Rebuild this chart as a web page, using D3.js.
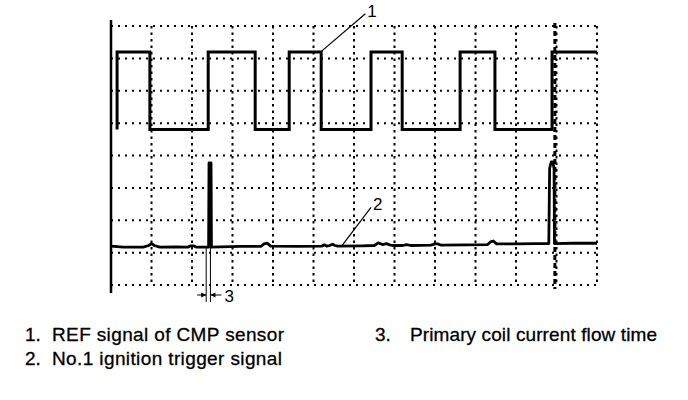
<!DOCTYPE html>
<html>
<head>
<meta charset="utf-8">
<script src="https://cdn.jsdelivr.net/npm/d3@7"></script>
<style>
  body { margin: 0; background: #fff; }
  text { font-family: "Liberation Sans", Arial, sans-serif; fill: #000; }
</style>
</head>
<body>
<svg id="scope" width="688" height="400"></svg>
<script>
// scope screen: 12 x 8 divisions
const xDivs = d3.range(0, 13);
const yDivs = d3.range(0, 9);
const cursorDiv = 10.96; // heavy dashed cursor line

// 1. REF signal of CMP sensor (step trace)
const refTimes  = [0.15, 0.15, 0.96, 2.40, 3.56, 4.40, 5.19, 6.42, 7.19, 8.62, 9.48, 10.89, 12];
const refLevels = [4.8,  7.2,  4.8,  7.2,  4.8,  7.2,  4.8,  7.2,  4.8,  7.2,  4.8,  7.2,   7.2];

// 2. No.1 ignition trigger signal
const trigTimes  = [0, 0.3, 0.8, 0.93, 1.0, 1.07, 1.2, 1.6, 1.9, 1.97, 2.04, 2.1, 2.41, 2.42, 2.47, 2.48, 2.7, 3.2, 3.7, 3.78, 3.86, 3.94, 4.6, 5.2, 5.27, 5.33, 5.4, 5.47, 5.53, 5.6, 6.2, 6.5, 6.6, 6.7, 6.8, 6.88, 6.95, 7.2, 7.3, 7.4, 7.9, 8.0, 8.07, 8.15, 8.8, 9.3, 9.37, 9.44, 9.52, 10.0, 10.5, 10.81, 10.83, 10.87, 10.91, 10.94, 10.95, 11.4, 12];
const trigLevels = [1.2, 1.17, 1.17, 1.22, 1.28, 1.22, 1.17, 1.18, 1.17, 1.21, 1.21, 1.17, 1.17, 3.77, 3.77, 1.17, 1.18, 1.19, 1.19, 1.27, 1.29, 1.2, 1.19, 1.2, 1.24, 1.2, 1.22, 1.26, 1.22, 1.2, 1.21, 1.22, 1.3, 1.25, 1.28, 1.24, 1.22, 1.22, 1.25, 1.22, 1.23, 1.27, 1.27, 1.23, 1.24, 1.25, 1.33, 1.36, 1.27, 1.27, 1.28, 1.28, 3.6, 3.8, 3.8, 3.6, 1.28, 1.29, 1.29];

// callouts (in divisions)
const callout1 = { from: [5.18, 7.2], to: [6.28, 8.38], label: "1" };
const callout2 = { from: [5.68, 1.18], to: [6.42, 2.4], label: "2" };
const flowTime = { start: 2.35, end: 2.455, label: "3" };

const legendNums  = ["1.", "2.", "3."];
const legendTexts = ["REF signal of CMP sensor", "No.1 ignition trigger signal", "Primary coil current flow time"];

const svg = d3.select("#scope");
const x = d3.scaleLinear().domain([0, 12]).range([111, 597]);
const y = d3.scaleLinear().domain([0, 8]).range([285, 26]);

svg.append("rect").attr("width", 688).attr("height", 400).attr("fill", "#fff");

// dotted grid
const grid = svg.append("g").attr("stroke", "#000");
grid.selectAll(".h").data(yDivs).enter().append("line")
    .attr("x1", x(0)).attr("x2", x(12))
    .attr("y1", d => y(d)).attr("y2", d => y(d))
    .attr("stroke-width", 2).attr("stroke-dasharray", "2,5");
grid.selectAll(".v").data(xDivs.slice(1)).enter().append("line")
    .attr("x1", d => x(d)).attr("x2", d => x(d))
    .attr("y1", y(8)).attr("y2", y(0))
    .attr("stroke-width", 2).attr("stroke-dasharray", "2.5,4");

// cursor
svg.append("line")
    .attr("x1", x(cursorDiv)).attr("x2", x(cursorDiv))
    .attr("y1", y(8) - 3).attr("y2", y(0) + 4)
    .attr("stroke", "#000").attr("stroke-width", 3).attr("stroke-dasharray", "5,3");

// left solid edge
svg.append("line")
    .attr("x1", x(0)).attr("x2", x(0))
    .attr("y1", y(8) - 6).attr("y2", y(0) + 8)
    .attr("stroke", "#000").attr("stroke-width", 2.5);

// traces
const stepLine = d3.line().x(d => x(d[0])).y(d => y(d[1])).curve(d3.curveStepAfter);
svg.append("path")
    .attr("d", stepLine(refTimes.map((t, i) => [t, refLevels[i]])))
    .attr("fill", "none").attr("stroke", "#000").attr("stroke-width", 3);

const trigLine = d3.line().x(d => x(d[0])).y(d => y(d[1]));
svg.append("path")
    .attr("d", trigLine(trigTimes.map((t, i) => [t, trigLevels[i]])))
    .attr("fill", "none").attr("stroke", "#000").attr("stroke-width", 2.8)
    .attr("stroke-linejoin", "round");

// callouts 1 and 2
[callout1, callout2].forEach(c => {
  svg.append("line")
      .attr("x1", x(c.from[0])).attr("y1", y(c.from[1]))
      .attr("x2", x(c.to[0])).attr("y2", y(c.to[1]))
      .attr("stroke", "#000").attr("stroke-width", 1.2);
  svg.append("text")
      .attr("x", x(c.to[0]) + 2).attr("y", y(c.to[1]) + 3)
      .attr("font-size", 17).text(c.label);
});

// callout 3: flow time
const arrowY = y(0) + 10;
[flowTime.start, flowTime.end].forEach(t => {
  svg.append("line")
      .attr("x1", x(t)).attr("x2", x(t))
      .attr("y1", y(1.17)).attr("y2", y(0) + 17)
      .attr("stroke", "#000").attr("stroke-width", 1);
});
const arrows = svg.append("g").attr("stroke", "#000").attr("stroke-width", 1);
arrows.append("line").attr("x1", x(flowTime.start) - 9).attr("x2", x(flowTime.start))
    .attr("y1", arrowY).attr("y2", arrowY);
arrows.append("line").attr("x1", x(flowTime.end) + 11).attr("x2", x(flowTime.end))
    .attr("y1", arrowY).attr("y2", arrowY);
svg.append("path")
    .attr("d", `M${x(flowTime.start)},${arrowY}l-5,-2.5v5z M${x(flowTime.end)},${arrowY}l5,-2.5v5z`)
    .attr("fill", "#000");
svg.append("text")
    .attr("x", x(flowTime.end) + 14).attr("y", arrowY + 7)
    .attr("font-size", 17).text(flowTime.label);

// legend
const legendPos = [[25, 52, 341], [25, 52, 365], [375, 410, 341]];
const legendWidths = [232, 230, 247];
const legend = svg.append("g").attr("font-size", 19)
    .attr("stroke", "#000").attr("stroke-width", 0.3);
legendTexts.forEach((t, i) => {
  const p = legendPos[i];
  legend.append("text").attr("x", p[0]).attr("y", p[2]).text(legendNums[i]);
  legend.append("text").attr("x", p[1]).attr("y", p[2])
      .attr("textLength", legendWidths[i]).attr("lengthAdjust", "spacing")
      .text(t);
});
</script>
</body>
</html>
